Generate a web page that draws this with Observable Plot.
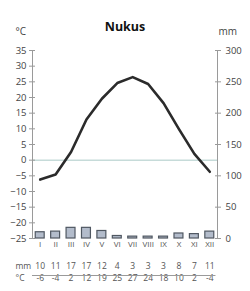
<!DOCTYPE html>
<html><head><meta charset="utf-8">
<script src="https://cdn.jsdelivr.net/npm/d3@7"></script>
<script src="https://cdn.jsdelivr.net/npm/@observablehq/plot@0.6"></script>
<style>body{margin:0;background:#fff}svg{display:block}</style>
</head><body>
<div id="chart"></div>
<script>
const months = ["I","II","III","IV","V","VI","VII","VIII","IX","X","XI","XII"];
const temp = [-6.2, -4.6, 2.6, 13, 19.6, 24.6, 26.5, 24.3, 18.2, 9.9, 2.0, -3.7];
const precip = [10, 11, 17, 17, 12, 4, 3, 3, 3, 8, 7, 11];
const tempLabels = [-6, -4, 2, 12, 19, 25, 27, 24, 18, 10, 2, -4];
const tempTicks = [-25, -20, -15, -10, -5, 0, 5, 10, 15, 20, 25, 30, 35];
const mmTicks = [0, 50, 100, 150, 200, 250, 300];
const title = "Nukus";

// precipitation scale: 0 mm ↔ -25 °C, 5 mm per °C
const mmToY = mm => mm / 5 - 25;
const rows = months.map((m, i) => ({i: i + 1, m, t: temp[i], p: precip[i], tl: tempLabels[i]}));
const font = "Open Sans, sans-serif";
const txt = "#444";
const txt2 = "#555";

const chart = Plot.plot({
  width: 250, height: 291,
  marginLeft: 32, marginRight: 33, marginTop: 50, marginBottom: 53,
  style: {fontFamily: font, fontSize: "9.5px", color: txt, background: "#fff"},
  x: {domain: [0.5, 12.5], axis: null},
  y: {domain: [-25, 35], axis: null},
  marks: [
    Plot.ruleY([0], {stroke: "#a9c9c6", strokeWidth: 1}),
    Plot.ruleX([0.5, 12.5], {y1: -25, y2: 35, stroke: "#9a9a9a"}),
    Plot.axisY({anchor: "left", label: null, ticks: tempTicks, tickSize: 6, dx: 3, tickPadding: 3, stroke: "#9a9a9a", fill: txt, fontSize: 9.5}),
    Plot.axisY({anchor: "right", label: null, ticks: mmTicks.map(mmToY), tickFormat: d => Math.round((d + 25) * 5), tickSize: 6, dx: -3, tickPadding: 5, stroke: "#9a9a9a", fill: txt, fontSize: 9.5}),
    Plot.rectY(rows, {x1: d => d.i - 0.29, x2: d => d.i + 0.29, y1: -25, y2: d => mmToY(d.p), fill: "#b3bccb", stroke: "#505862", strokeWidth: 1.2}),
    Plot.line(rows, {x: "i", y: "t", stroke: "#2b2b2b", strokeWidth: 2.6, strokeLinejoin: "round"}),
    // month labels
    Plot.text(rows, {x: "i", text: "m", frameAnchor: "bottom", dy: 8, fontSize: 8, fill: txt2}),
    // table
    Plot.text(rows, {x: "i", text: d => String(d.p), frameAnchor: "bottom", dy: 30.5, fontSize: 8.5, fill: txt2}),
    Plot.text(rows, {x: "i", text: d => String(d.tl), frameAnchor: "bottom", dy: 42.5, fontSize: 8.5, fill: txt2}),
    Plot.text(["mm"], {frameAnchor: "bottom-left", textAnchor: "start", dx: -17, dy: 30.5, fontSize: 8.5, fill: txt2}),
    Plot.text(["°C"], {frameAnchor: "bottom-left", textAnchor: "start", dx: -17, dy: 42.5, fontSize: 8.5, fill: txt2}),
    Plot.ruleY([-25], {x1: 0.5, x2: 12.4, dy: 37, stroke: "#9a9a9a"}),
    // header
    Plot.text([title], {frameAnchor: "top", dy: -28, fontSize: 12.5, fontWeight: "bold", fill: "#111"}),
    Plot.text(["°C"], {frameAnchor: "top-left", textAnchor: "start", dx: -17, dy: -22.5, fontSize: 10, fill: txt}),
    Plot.text(["mm"], {frameAnchor: "top-right", textAnchor: "start", dx: 1, dy: -22.5, fontSize: 10, fill: txt})
  ]
});
document.getElementById("chart").append(chart);
</script>
</body></html>
